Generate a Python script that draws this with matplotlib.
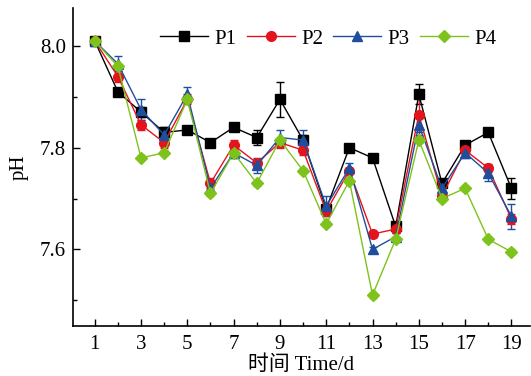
import matplotlib
matplotlib.use("Agg")
import matplotlib.pyplot as plt
from matplotlib.ticker import MultipleLocator, FormatStrFormatter

plt.rcParams['font.family'] = ['Liberation Serif', 'Noto Sans CJK SC']
plt.rcParams['mathtext.fontset'] = 'stix'

days = list(range(1, 20))
p1 = [8.01, 7.91, 7.87, 7.83, 7.835, 7.81, 7.84, 7.82, 7.895, 7.815, 7.68, 7.80, 7.78, 7.645, 7.905, 7.73, 7.805, 7.83, 7.72]
p2 = [8.01, 7.94, 7.845, 7.81, 7.895, 7.73, 7.805, 7.77, 7.81, 7.795, 7.675, 7.755, 7.63, 7.64, 7.865, 7.705, 7.795, 7.76, 7.66]
p3 = [8.01, 7.965, 7.875, 7.825, 7.905, 7.72, 7.79, 7.765, 7.82, 7.815, 7.685, 7.76, 7.60, 7.625, 7.845, 7.72, 7.79, 7.75, 7.665]
p4 = [8.01, 7.96, 7.78, 7.79, 7.895, 7.71, 7.79, 7.73, 7.815, 7.755, 7.65, 7.735, 7.51, 7.62, 7.815, 7.70, 7.72, 7.62, 7.595]
e1 = [0.005, 0.005, 0.01, 0.01, 0.005, 0.005, 0.005, 0.015, 0.035, 0.01, 0.01, 0.005, 0.005, 0.008, 0.02, 0.008, 0.005, 0.005, 0.02]
e2 = [0.005, 0.01, 0.01, 0.01, 0.01, 0.01, 0.01, 0.008, 0.01, 0.01, 0.01, 0.005, 0.005, 0.008, 0.04, 0.01, 0.008, 0.008, 0.01]
e3 = [0.008, 0.015, 0.02, 0.01, 0.015, 0.01, 0.01, 0.015, 0.015, 0.02, 0.02, 0.01, 0.005, 0.008, 0.015, 0.015, 0.01, 0.015, 0.025]
e4 = [0.005, 0.005, 0.005, 0.005, 0.005, 0.005, 0.005, 0.005, 0.005, 0.005, 0.005, 0.005, 0.005, 0.005, 0.005, 0.005, 0.005, 0.005, 0.005]
labels = ['P1', 'P2', 'P3', 'P4']
colors = ['#000000', '#e3141b', '#1f4e9c', '#7ec31b']
markers = ['s', 'o', '^', 'D']
msizes = [6.5, 7, 7.5, 6.5]

fig = plt.figure(figsize=(5.31, 3.76), dpi=100)
ax = fig.add_axes([0.137, 0.134, 0.861, 0.845])

for y, e, lab, c, m, ms in zip([p1, p2, p3, p4], [e1, e2, e3, e4], labels, colors, markers, msizes):
    ax.errorbar(days, y, yerr=e, color=c, marker=m, markersize=ms, linewidth=1.0,
                elinewidth=1.0, capsize=3, capthick=1.0, label=lab)

ax.set_xlim(0.05, 19.8)
ax.set_ylim(7.45, 8.075)
ax.set_xticks([1, 3, 5, 7, 9, 11, 13, 15, 17, 19])
ax.set_xticks([2, 4, 6, 8, 10, 12, 14, 16, 18], minor=True)
ax.yaxis.set_major_locator(MultipleLocator(0.2))
ax.yaxis.set_minor_locator(MultipleLocator(0.1))
ax.yaxis.set_major_formatter(FormatStrFormatter('%.1f'))
ax.tick_params(which='both', direction='in', labelsize=15, width=1.0)
ax.tick_params(which='major', length=5)
ax.tick_params(which='minor', length=3)
ax.tick_params(axis='y', which='major', pad=5)
ax.tick_params(axis='x', which='major', pad=7)
for s in ['top', 'right']:
    ax.spines[s].set_visible(False)
for s in ['left', 'bottom']:
    ax.spines[s].set_linewidth(1.2)

ax.set_xlabel('时间 Time/d', fontsize=15, labelpad=1)
ax.set_ylabel('pH', fontsize=15, labelpad=8)

handles, labs = ax.get_legend_handles_labels()
handles = [h[0] for h in handles]
ax.legend(handles, labs, loc='upper right', ncol=4, frameon=False, fontsize=15,
          handlelength=2.3, handletextpad=0.3, columnspacing=0.5,
          bbox_to_anchor=(0.945, 0.96), borderaxespad=0.0)

fig.savefig('out.png', dpi=100)
